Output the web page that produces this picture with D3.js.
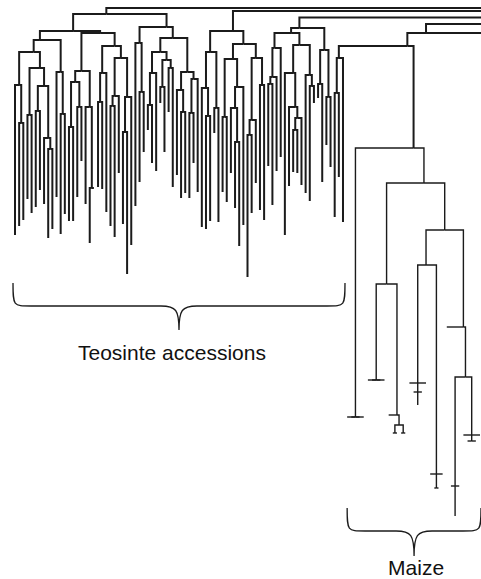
<!DOCTYPE html>
<html>
<head>
<meta charset="utf-8">
<script src="https://cdn.jsdelivr.net/npm/d3@7"></script>
<style>
  body { margin: 0; background: #fff; }
  svg { display: block; }
</style>
</head>
<body>
<script>
// Dendrogram. Internal node = [node depth, ...children],
// tip = depth where the tip line ends (same as parent depth = zero length).
// Depths are in picture units, measured down from the top.

const teosinteA = [14,
  [31,
    [40,
      [52,
        [85, 235, [123, 226, 220]],
        [68,
          [115, 199, 213],
          [86, [111, 207, 190], [138, 204, [149, 238, 229]]]
        ]
      ],
      [72, 197, [114, 234, 214]]
    ],
    [33,
      [71,
        [82, [127, 221, 221], [107, 197, 161]],
        [107, 204, [188, 243, 188]]
      ],
      [46,
        [73, [102, 187, 189], 212],
        [58, [96, [106, 226, 237], 173], [97, [132, 224, 274], 245]]
      ]
    ]
  ],
  [27,
    [43, 206, [92, 182, 152]],
    [38,
      [52, [73, [105, 130, 163], 171], [60, [87, 103, 152], [68, 112, 187]]],
      [72, [90, 175, [112, 198, 193]], [79, [113, 198, 163], 192]]
    ]
  ]
];

const teosinteB = [31,
  [52,
    [88, 227, [116, 229, 221]],
    [108, 133, 222]
  ],
  [44,
    [59,
      [117, 192, 202],
      [87, [108, 173, [142, 208, 246]], 225]
    ],
    [58,
      [120, [135, 277, 213], 183],
      [85, 210, 220]
    ]
  ]
];

const teosinteC = [28,
  [33,
    [48, [77, [84, 166, 205], 171], 157],
    [45,
      [73, 235, [107, 186, [118, [130, 172, 173], 185]]],
      [75, 193, [86, 201, 103]]
    ]
  ],
  [50, [84, 98, 182], [97, 145, 167]]
];

const teosinteSmall = [58, [93, 217, 177], 222];

const maize = [148,
  [417, 417, 417, 417, 417, 417],
  [183,
    [284,
      [380, 380, 380, 380, 380, 380],
      [415, 415, [425, [433, 433, 433], [433, 433, 433]]]
    ],
    [230,
      [265,
        [383, 383, [392, 392, 405, 392], 383],
        [474, 474, [488, 488, 488], 474]
      ],
      [327, 327,
        [377,
          [486, 486, 516, 486],
          [435, 435, [441, 441, 441, 441], 435]
        ]
      ]
    ]
  ]
];

// depths of the backbone nodes that join the groups (root sits past the right edge)
const backbone = [8, 11, 17.5, 24, 33, 46];
// tip counts of the clades cut off by the right edge of the figure
const croppedTips = [120, 9];

const groupLabels = ["Teosinte accessions", "Maize"];

const width = 481, height = 579;

const tree = [backbone[0], teosinteA,
  [backbone[1], teosinteB,
    [backbone[2], teosinteC,
      [backbone[3],
        [backbone[4],
          [backbone[5], teosinteSmall, maize],
          {tips: croppedTips[1]}],
        {tips: croppedTips[0]}]]]];

const root = d3.hierarchy(tree, d => Array.isArray(d) ? d.slice(1) : null);

// give every tip a slot (collapsed clades take several)
let slot = 0;
root.leaves().forEach(l => {
  const n = (l.data && l.data.tips) ? l.data.tips : 1;
  l.s0 = slot; l.s1 = slot + n - 1; slot += n;
});
const visibleTips = root.leaves().filter(l => !l.data.tips).length;

const x = d3.scaleLinear().domain([0, visibleTips - 1]).range([15, 480]);
const y = d3.scaleLinear().domain([0, height]).range([0, height]);

root.each(d => {
  const lv = d.leaves();
  d.px = (x(lv[0].s0) + x(lv[lv.length - 1].s1)) / 2;
  if (Array.isArray(d.data)) d.depthVal = d.data[0];
  else if (d.data.tips) d.depthVal = d.parent.data[0];
  else d.depthVal = d.data;
});

const svg = d3.select("body").append("svg")
  .attr("width", width)
  .attr("height", height);

svg.append("rect").attr("width", width).attr("height", height).attr("fill", "#fff");

// maize tips start after the teosinte ones
const maizeRoot = root.descendants().find(d => d.data === maize);
const inMaize = new Set(maizeRoot.descendants());

svg.append("g")
  .attr("fill", "none")
  .attr("stroke", "#1b1b1b")
  .attr("stroke-linejoin", "miter")
  .selectAll("path")
  .data(root.descendants().slice(1))
  .join("path")
    .attr("stroke-width", d => inMaize.has(d) && d !== maizeRoot ? 1.4 : 2)
    .attr("d", d => `M${d.parent.px},${y(d.parent.depthVal)}H${d.px}V${y(d.depthVal)}`);

// braces under the two groups
function brace(x1, x2, top, mid, tip) {
  const xm = (x1 + x2) / 2, r = 18;
  return `M${x1},${top}C${x1},${mid} ${x1},${mid} ${x1 + r},${mid}` +
    `L${xm - r},${mid}C${xm - 3},${mid} ${xm},${mid + 4} ${xm},${tip}` +
    `C${xm},${mid + 4} ${xm + 3},${mid} ${xm + r},${mid}` +
    `L${x2 - r},${mid}C${x2},${mid} ${x2},${mid} ${x2},${top}`;
}

const teoLeaves = root.leaves().filter(l => !l.data.tips && !inMaize.has(l));
const maizeLeaves = maizeRoot.leaves();

const groups = [
  {label: groupLabels[0], x1: x(teoLeaves[0].s0) - 2, x2: x(teoLeaves[teoLeaves.length - 1].s0) + 2,
   top: 283, mid: 306, tip: 330, ty: 360, dx: -7},
  {label: groupLabels[1], x1: x(maizeLeaves[0].s0), x2: x(maizeLeaves[maizeLeaves.length - 1].s0) + 1,
   top: 508, mid: 531, tip: 556, ty: 575, dx: 2}
];

svg.append("g")
  .selectAll("path")
  .data(groups)
  .join("path")
    .attr("fill", "none")
    .attr("stroke", "#1b1b1b")
    .attr("stroke-width", 1.3)
    .attr("d", g => brace(g.x1, g.x2, g.top, g.mid, g.tip));

svg.append("g")
  .selectAll("text")
  .data(groups)
  .join("text")
    .attr("x", g => (g.x1 + g.x2) / 2 + g.dx)
    .attr("y", g => g.ty)
    .attr("text-anchor", "middle")
    .style("font-family", "'Liberation Sans', Arial, sans-serif")
    .style("font-size", "21px")
    .style("fill", "#111")
    .text(g => g.label);
</script>
</body>
</html>
